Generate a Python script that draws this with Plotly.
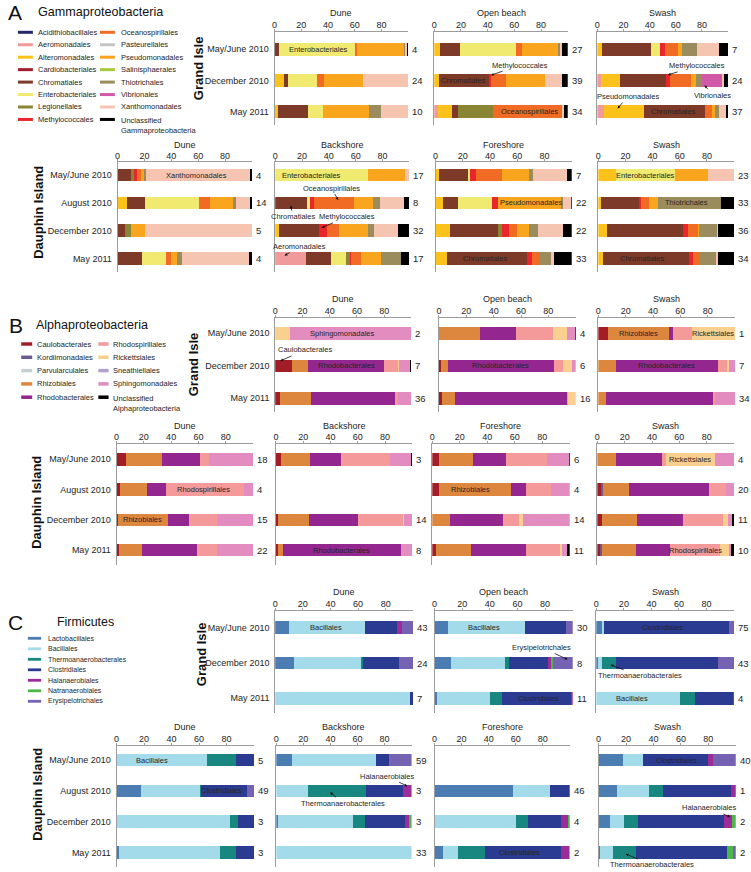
import plotly.graph_objects as go

# page pixels map 1:1 to figure pixels (body margin removed in post_script)
OX, OY = 0, 0
FW, FH = 751, 872
FONT = "Liberation Sans, Arial, Helvetica, sans-serif"
NARROW = "Liberation Sans Narrow, Liberation Sans, Arial, sans-serif"
AXIS_GRAY = "#9c9c9c"
TXT = "#1e1e1e"


def PX(x):
    return (x - OX) / FW


def PY(y):
    return 1 - (y - OY) / FH


# ---------------- orders & colours ----------------
GAMMA_ORDERS = ["Acidithiobacillales", "Aeromonadales", "Alteromonadales", "Cardiobacteriales",
                "Chromatiales", "Enterobacteriales", "Legionellales", "Methylococcales",
                "Oceanospirillales", "Pasteurellales", "Pseudomonadales", "Salinisphaerales",
                "Thiotrichales", "Vibrionales", "Xanthomonadales", "Unclassified"]
GAMMA_COLORS = ["#23286b", "#f09a9c", "#fcc21c", "#a01e2c", "#7d3a28", "#f1ea70", "#8a8532",
                "#e8262b", "#f26b24", "#c4c4c4", "#f9a51e", "#a9c83c", "#9a8c5c", "#d159a8",
                "#f5c5b2", "#000000"]
GAMMA_LEGEND = GAMMA_ORDERS[:-1] + ["Unclassified<br>Gammaproteobacteria"]

ALPHA_ORDERS = ["Caulobacterales", "Kordiimonadales", "Parvularculales", "Rhizobiales",
                "Rhodobacterales", "Rhodospirillales", "Rickettsiales", "Sneathiellales",
                "Sphingomonadales", "Unclassified"]
ALPHA_COLORS = ["#a31d26", "#6b5a8e", "#c5ced1", "#dd873e", "#93278f", "#f59a9a", "#f9d08f",
                "#b2a1cb", "#e38cc0", "#000000"]
ALPHA_LEGEND = ALPHA_ORDERS[:-1] + ["Unclassified<br>Alphaproteobacteria"]

FIRM_ORDERS = ["Lactobacillales", "Bacillales", "Thermoanaerobacterales", "Clostridiales",
               "Halanaerobiales", "Natranaerobiales", "Erysipelotrichales"]
FIRM_COLORS = ["#4b7cb2", "#a4dbeb", "#17877f", "#2b3b92", "#9c2c99", "#4db848", "#7562b3"]

GI_DATES = ["May/June 2010", "December 2010", "May 2011"]
DI_DATES = ["May/June 2010", "August 2010", "December 2010", "May 2011"]

# ---------------- A: Gammaproteobacteria ----------------
gamma_gi_dune = {
    "May/June 2010": {"Chromatiales": 3, "Enterobacteriales": 57, "Oceanospirillales": 2, "Pseudomonadales": 35, "Thiotrichales": 1, "Xanthomonadales": 1, "Unclassified": 1},
    "December 2010": {"Alteromonadales": 7, "Chromatiales": 3, "Enterobacteriales": 22, "Oceanospirillales": 5, "Pseudomonadales": 29, "Xanthomonadales": 34},
    "May 2011": {"Alteromonadales": 2.5, "Chromatiales": 22.5, "Enterobacteriales": 11.5, "Pseudomonadales": 34.5, "Thiotrichales": 8.5, "Xanthomonadales": 20.5},
}
gamma_gi_dune_n = [4, 24, 10]
gamma_gi_open = {
    "May/June 2010": {"Alteromonadales": 4.5, "Chromatiales": 14.5, "Enterobacteriales": 42, "Oceanospirillales": 4.5, "Pseudomonadales": 27, "Thiotrichales": 2, "Xanthomonadales": 1.5, "Unclassified": 4},
    "December 2010": {"Alteromonadales": 3.5, "Chromatiales": 37.5, "Methylococcales": 1.5, "Oceanospirillales": 11.5, "Pseudomonadales": 29, "Xanthomonadales": 12.5, "Unclassified": 4.5},
    "May 2011": {"Aeromonadales": 2.7, "Alteromonadales": 10.7, "Chromatiales": 4.5, "Legionellales": 26.3, "Oceanospirillales": 50.6, "Thiotrichales": 1, "Xanthomonadales": 1.2, "Unclassified": 3},
}
gamma_gi_open_n = [27, 39, 34]
gamma_gi_swash = {
    "May/June 2010": {"Alteromonadales": 3.3, "Chromatiales": 37.7, "Enterobacteriales": 7.2, "Methylococcales": 3.8, "Oceanospirillales": 9.7, "Pseudomonadales": 3, "Thiotrichales": 11.9, "Xanthomonadales": 16.5, "Unclassified": 6.9},
    "December 2010": {"Aeromonadales": 2.5, "Alteromonadales": 14.8, "Chromatiales": 35.5, "Methylococcales": 3, "Oceanospirillales": 15.7, "Pseudomonadales": 3.8, "Thiotrichales": 4.6, "Vibrionales": 15.3, "Xanthomonadales": 1.3, "Unclassified": 3.5},
    "May 2011": {"Aeromonadales": 5, "Alteromonadales": 30.5, "Chromatiales": 46.5, "Oceanospirillales": 5.5, "Pseudomonadales": 2.5, "Thiotrichales": 3, "Xanthomonadales": 5.5, "Unclassified": 1.5},
}
gamma_gi_swash_n = [7, 24, 37]

gamma_di_dune = {
    "May/June 2010": {"Aeromonadales": 0.7, "Chromatiales": 9, "Legionellales": 2.4, "Methylococcales": 2.4, "Oceanospirillales": 3.2, "Pseudomonadales": 1.7, "Thiotrichales": 1.7, "Xanthomonadales": 77.2, "Unclassified": 1.7},
    "August 2010": {"Alteromonadales": 7.3, "Chromatiales": 13.3, "Enterobacteriales": 40, "Oceanospirillales": 8, "Pseudomonadales": 17.5, "Thiotrichales": 2, "Xanthomonadales": 10.2, "Unclassified": 1.7},
    "December 2010": {"Alteromonadales": 0.7, "Chromatiales": 4.9, "Legionellales": 4.1, "Pseudomonadales": 10.9, "Xanthomonadales": 79.4},
    "May 2011": {"Alteromonadales": 0.7, "Chromatiales": 17.5, "Enterobacteriales": 17.7, "Oceanospirillales": 4.1, "Pseudomonadales": 4.4, "Thiotrichales": 3.4, "Xanthomonadales": 50.2, "Unclassified": 2},
}
gamma_di_dune_n = [4, 14, 5, 4]
gamma_di_back = {
    "May/June 2010": {"Enterobacteriales": 69, "Pseudomonadales": 28, "Xanthomonadales": 3},
    "August 2010": {"Chromatiales": 23.5, "Enterobacteriales": 2.5, "Methylococcales": 3.2, "Oceanospirillales": 29.6, "Pseudomonadales": 14, "Thiotrichales": 5, "Xanthomonadales": 18.5, "Unclassified": 3.7},
    "December 2010": {"Alteromonadales": 2.5, "Chromatiales": 30, "Methylococcales": 6.4, "Oceanospirillales": 9, "Pseudomonadales": 21, "Thiotrichales": 4.4, "Xanthomonadales": 18.1, "Unclassified": 8.6},
    "May 2011": {"Aeromonadales": 22.7, "Chromatiales": 18.7, "Enterobacteriales": 11.1, "Legionellales": 3, "Methylococcales": 1.2, "Oceanospirillales": 6.9, "Pseudomonadales": 15, "Thiotrichales": 15.3, "Unclassified": 6.1},
}
gamma_di_back_n = [17, 8, 32, 17]
gamma_di_fore = {
    "May/June 2010": {"Alteromonadales": 2.4, "Chromatiales": 21.1, "Enterobacteriales": 2, "Methylococcales": 4.1, "Oceanospirillales": 18.9, "Pseudomonadales": 20.4, "Thiotrichales": 2.4, "Xanthomonadales": 25.1, "Unclassified": 3.6},
    "August 2010": {"Alteromonadales": 5.3, "Chromatiales": 10.9, "Enterobacteriales": 25.5, "Methylococcales": 4.4, "Pseudomonadales": 46.1, "Thiotrichales": 1.2, "Xanthomonadales": 5.9, "Unclassified": 0.7},
    "December 2010": {"Alteromonadales": 10.7, "Chromatiales": 35.2, "Legionellales": 2.7, "Methylococcales": 5.3, "Oceanospirillales": 6.1, "Pseudomonadales": 8.5, "Thiotrichales": 6.6, "Xanthomonadales": 18.4, "Unclassified": 6.5},
    "May 2011": {"Alteromonadales": 8.3, "Chromatiales": 59, "Methylococcales": 3.2, "Oceanospirillales": 6.1, "Thiotrichales": 8.5, "Xanthomonadales": 2, "Unclassified": 12.9},
}
gamma_di_fore_n = [7, 22, 22, 33]
gamma_di_swash = {
    "May/June 2010": {"Alteromonadales": 13.1, "Enterobacteriales": 43.2, "Pseudomonadales": 24.3, "Xanthomonadales": 19.4},
    "August 2010": {"Alteromonadales": 1.7, "Chromatiales": 28.4, "Methylococcales": 1.2, "Oceanospirillales": 6.1, "Pseudomonadales": 6.3, "Thiotrichales": 46.6, "Unclassified": 9.7},
    "December 2010": {"Alteromonadales": 6.1, "Chromatiales": 56.3, "Methylococcales": 3.6, "Oceanospirillales": 7.3, "Pseudomonadales": 1.2, "Thiotrichales": 12.6, "Xanthomonadales": 1.2, "Unclassified": 11.7},
    "May 2011": {"Alteromonadales": 3.4, "Chromatiales": 63.3, "Methylococcales": 3.4, "Oceanospirillales": 4.9, "Thiotrichales": 11.7, "Xanthomonadales": 1.2, "Unclassified": 12.1},
}
gamma_di_swash_n = [23, 33, 36, 34]

# ---------------- B: Alphaproteobacteria ----------------
alpha_gi_dune = {
    "May/June 2010": {"Rickettsiales": 10.5, "Sphingomonadales": 89.5},
    "December 2010": {"Caulobacterales": 12.2, "Rhizobiales": 12.2, "Rhodobacterales": 55.3, "Rhodospirillales": 10.5, "Rickettsiales": 0.5, "Sphingomonadales": 8, "Unclassified": 1.3},
    "May 2011": {"Caulobacterales": 3.7, "Rhizobiales": 22.7, "Rhodobacterales": 61.5, "Rhodospirillales": 2.4, "Sphingomonadales": 9.7},
}
alpha_gi_dune_n = [2, 7, 36]
alpha_gi_open = {
    "May/June 2010": {"Rhizobiales": 30.3, "Rhodobacterales": 26, "Rhodospirillales": 27.2, "Rickettsiales": 10.4, "Sphingomonadales": 5.3, "Unclassified": 0.8},
    "December 2010": {"Caulobacterales": 1.2, "Rhizobiales": 5.3, "Rhodobacterales": 77.7, "Rhodospirillales": 6.8, "Rickettsiales": 6.6, "Sphingomonadales": 2.4},
    "May 2011": {"Caulobacterales": 2.2, "Rhizobiales": 9.7, "Rhodobacterales": 82, "Rhodospirillales": 0.7, "Rickettsiales": 5.4},
}
alpha_gi_open_n = [4, 6, 16]
alpha_gi_swash = {
    "May/June 2010": {"Caulobacterales": 7, "Rhizobiales": 44.7, "Rhodobacterales": 2.7, "Rhodospirillales": 14.3, "Rickettsiales": 31.3},
    "December 2010": {"Rhizobiales": 12.6, "Rhodobacterales": 74.9, "Rhodospirillales": 6.8, "Rickettsiales": 1, "Sphingomonadales": 4.7},
    "May 2011": {"Rhizobiales": 5.3, "Rhodobacterales": 78.5, "Rhodospirillales": 1.2, "Sphingomonadales": 15},
}
alpha_gi_swash_n = [1, 7, 34]

alpha_di_dune = {
    "May/June 2010": {"Caulobacterales": 6.8, "Rhizobiales": 26.8, "Rhodobacterales": 27.3, "Rhodospirillales": 6.8, "Sphingomonadales": 32.3},
    "August 2010": {"Caulobacterales": 2.4, "Rhizobiales": 20.2, "Rhodobacterales": 13.4, "Rhodospirillales": 57.2, "Sphingomonadales": 6.8},
    "December 2010": {"Caulobacterales": 0.7, "Rhizobiales": 37, "Rhodobacterales": 15.3, "Rhodospirillales": 20.7, "Sphingomonadales": 26.3},
    "May 2011": {"Caulobacterales": 1.5, "Rhizobiales": 16.8, "Rhodobacterales": 40.4, "Rhodospirillales": 15.1, "Sphingomonadales": 26.2},
}
alpha_di_dune_n = [18, 4, 15, 22]
alpha_di_back = {
    "May/June 2010": {"Caulobacterales": 3.9, "Rhizobiales": 21.2, "Rhodobacterales": 22.4, "Rhodospirillales": 36, "Sphingomonadales": 15.8, "Unclassified": 0.7},
    "December 2010": {"Caulobacterales": 1.5, "Rhizobiales": 22.4, "Rhodobacterales": 36, "Rhodospirillales": 33.3, "Rickettsiales": 0.7, "Sphingomonadales": 6.1},
    "May 2011": {"Caulobacterales": 1.9, "Rhizobiales": 3.6, "Rhodobacterales": 86.5, "Sphingomonadales": 8},
}
alpha_di_back_n = [3, None, 14, 8]
alpha_di_fore = {
    "May/June 2010": {"Caulobacterales": 4.8, "Rhizobiales": 25.1, "Rhodobacterales": 23.7, "Rhodospirillales": 29.7, "Sphingomonadales": 16.2, "Unclassified": 0.5},
    "August 2010": {"Caulobacterales": 4.8, "Rhizobiales": 52.4, "Rhodobacterales": 10.9, "Rhodospirillales": 18.1, "Sphingomonadales": 13.8},
    "December 2010": {"Rhizobiales": 13, "Rhodobacterales": 38.2, "Rhodospirillales": 11.6, "Rickettsiales": 2.9, "Sphingomonadales": 34.3},
    "May 2011": {"Caulobacterales": 2.9, "Rhizobiales": 25.4, "Rhodobacterales": 39.9, "Rhodospirillales": 24.6, "Rickettsiales": 1.4, "Sphingomonadales": 4.1, "Unclassified": 1.7},
}
alpha_di_fore_n = [6, 4, 14, 11]
alpha_di_swash = {
    "May/June 2010": {"Rhizobiales": 13.8, "Rhodobacterales": 33.4, "Rhodospirillales": 2.9, "Rickettsiales": 36.3, "Sphingomonadales": 13.6},
    "August 2010": {"Caulobacterales": 2.9, "Kordiimonadales": 1.2, "Rhizobiales": 19.4, "Rhodobacterales": 58.1, "Rhodospirillales": 12.8, "Sphingomonadales": 5.6},
    "December 2010": {"Caulobacterales": 3.6, "Rhizobiales": 25.4, "Rhodobacterales": 33.9, "Rhodospirillales": 29.1, "Rickettsiales": 3.6, "Sphingomonadales": 2.9, "Unclassified": 1.5},
    "May 2011": {"Caulobacterales": 1.7, "Kordiimonadales": 1.5, "Rhizobiales": 25.2, "Rhodobacterales": 24.9, "Rhodospirillales": 36.3, "Rickettsiales": 6.5, "Sphingomonadales": 1.5, "Unclassified": 2.4},
}
alpha_di_swash_n = [4, 20, 11, 10]

# ---------------- C: Firmicutes ----------------
firm_gi_dune = {
    "May/June 2010": {"Lactobacillales": 10, "Bacillales": 54.7, "Clostridiales": 23.3, "Halanaerobiales": 3.8, "Erysipelotrichales": 8.2},
    "December 2010": {"Lactobacillales": 13.9, "Bacillales": 48.4, "Thermoanaerobacterales": 1.2, "Clostridiales": 26, "Erysipelotrichales": 10.5},
    "May 2011": {"Bacillales": 97.5, "Clostridiales": 2.5},
}
firm_gi_dune_n = [43, 24, 7]
firm_gi_open = {
    "May/June 2010": {"Lactobacillales": 9.6, "Bacillales": 56.1, "Clostridiales": 29.5, "Erysipelotrichales": 4.8},
    "December 2010": {"Lactobacillales": 12, "Bacillales": 39.3, "Thermoanaerobacterales": 2.4, "Clostridiales": 28.2, "Halanaerobiales": 2.4, "Natranaerobiales": 1.2, "Erysipelotrichales": 14.5},
    "May 2011": {"Lactobacillales": 1.7, "Bacillales": 38.5, "Thermoanaerobacterales": 8.7, "Clostridiales": 50.1, "Halanaerobiales": 1},
}
firm_gi_open_n = [30, 8, 11]
firm_gi_swash = {
    "May/June 2010": {"Lactobacillales": 3.9, "Bacillales": 1.7, "Clostridiales": 90.8, "Erysipelotrichales": 3.6},
    "December 2010": {"Lactobacillales": 1.2, "Bacillales": 3.1, "Thermoanaerobacterales": 10.1, "Clostridiales": 73.6, "Erysipelotrichales": 12},
    "May 2011": {"Bacillales": 60.7, "Thermoanaerobacterales": 11, "Clostridiales": 27.3, "Halanaerobiales": 1},
}
firm_gi_swash_n = [75, 43, 4]

firm_di_dune = {
    "May/June 2010": {"Bacillales": 65.7, "Thermoanaerobacterales": 21, "Clostridiales": 13.3},
    "August 2010": {"Lactobacillales": 17.8, "Bacillales": 42.7, "Thermoanaerobacterales": 1, "Clostridiales": 33.3, "Erysipelotrichales": 5.2},
    "December 2010": {"Bacillales": 82.2, "Thermoanaerobacterales": 6.3, "Clostridiales": 11.5},
    "May 2011": {"Lactobacillales": 2.1, "Bacillales": 73.1, "Thermoanaerobacterales": 11.5, "Clostridiales": 13.3},
}
firm_di_dune_n = [5, 49, 3, 3]
firm_di_back = {
    "May/June 2010": {"Lactobacillales": 11.3, "Bacillales": 62.4, "Clostridiales": 9.6, "Erysipelotrichales": 16.7},
    "August 2010": {"Bacillales": 23.4, "Thermoanaerobacterales": 42.9, "Clostridiales": 27, "Halanaerobiales": 6.7},
    "December 2010": {"Lactobacillales": 1, "Bacillales": 55.7, "Thermoanaerobacterales": 8.9, "Clostridiales": 29.4, "Halanaerobiales": 3.2, "Natranaerobiales": 1.8},
    "May 2011": {"Bacillales": 100},
}
firm_di_back_n = [59, 3, 3, 33]
firm_di_fore = {
    "August 2010": {"Lactobacillales": 57.8, "Bacillales": 27.3, "Clostridiales": 14.9},
    "December 2010": {"Bacillales": 60.3, "Thermoanaerobacterales": 8.9, "Clostridiales": 24.1, "Halanaerobiales": 5.3, "Natranaerobiales": 1.4},
    "May 2011": {"Lactobacillales": 6.4, "Bacillales": 11.3, "Thermoanaerobacterales": 19.5, "Clostridiales": 56, "Halanaerobiales": 6, "Natranaerobiales": 0.8},
}
firm_di_fore_n = [None, 46, 4, 2]
firm_di_swash = {
    "May/June 2010": {"Lactobacillales": 17.9, "Bacillales": 14.3, "Clostridiales": 47.8, "Halanaerobiales": 3.6, "Erysipelotrichales": 16.4},
    "August 2010": {"Lactobacillales": 13.2, "Bacillales": 23.2, "Thermoanaerobacterales": 10.7, "Clostridiales": 49.3, "Halanaerobiales": 3.6},
    "December 2010": {"Lactobacillales": 8.6, "Bacillales": 10, "Thermoanaerobacterales": 10, "Clostridiales": 63.1, "Halanaerobiales": 5.4, "Natranaerobiales": 2.9},
    "May 2011": {"Lactobacillales": 0.7, "Bacillales": 10, "Thermoanaerobacterales": 16.8, "Clostridiales": 66.1, "Natranaerobiales": 4.3, "Erysipelotrichales": 2.1},
}
firm_di_swash_n = [40, 1, 2, 2]

# ---------------- building ----------------
fig = go.Figure()
layout = {}
annotations = []
shapes = []
counter = [0]


def add_row(cols, dates, xdoms, ytop, ybot, yfirst, yspace, title_y, orders, colors, label_font):
    for ci, col in enumerate(cols):
        counter[0] += 1
        k = counter[0]
        xa = "x" if k == 1 else f"x{k}"
        ya = "y" if k == 1 else f"y{k}"
        xkey = "xaxis" if k == 1 else f"xaxis{k}"
        ykey = "yaxis" if k == 1 else f"yaxis{k}"
        x0, x1 = xdoms[ci]
        data = col["data"]
        bw = 12.5 / yspace
        for order, color in zip(orders, colors):
            xs = [data.get(d, {}).get(order, 0) for d in dates]
            if not any(xs):
                continue
            fig.add_trace(go.Bar(x=xs, y=dates, orientation="h", width=bw,
                                 marker=dict(color=color, line=dict(width=0)),
                                 xaxis=xa, yaxis=ya, name=order, showlegend=False,
                                 hovertemplate=order + ": %{x}%<extra></extra>"))
        layout[xkey] = dict(domain=[PX(x0), PX(x1)], anchor=ya, side="top", range=[0, 100],
                            tickvals=[0, 20, 40, 60, 80], ticks="outside", ticklen=2,
                            tickcolor=AXIS_GRAY, showline=True, linecolor=AXIS_GRAY,
                            linewidth=1, showgrid=False, zeroline=False, fixedrange=True,
                            ticklabelstandoff=-3,
                            tickfont=dict(size=9, color=TXT, family=FONT))
        layout[ykey] = dict(domain=[PY(ybot), PY(ytop)], anchor=xa, type="category",
                            categoryorder="array", categoryarray=dates,
                            range=[(ybot - yfirst) / yspace, (ytop - yfirst) / yspace],
                            showline=True, linecolor=AXIS_GRAY, linewidth=1, ticks="",
                            showgrid=False, zeroline=False, fixedrange=True,
                            showticklabels=(ci == 0), ticklabelstandoff=3,
                            tickfont=dict(size=9, color=TXT, family=FONT))
        annotations.append(dict(x=50, xref=xa, y=PY(title_y), yref="paper", text=col["title"],
                                showarrow=False, xanchor="center", yanchor="middle",
                                font=dict(size=9, color=TXT, family=FONT)))
        for di, n in enumerate(col["n"]):
            if n is None:
                continue
            annotations.append(dict(x=100, xref=xa, y=di, yref=ya, text=str(n), showarrow=False,
                                    xanchor="left", yanchor="middle", xshift=2,
                                    font=dict(size=9.5, color=TXT, family=FONT)))
        for (txt, xv, di) in col.get("inbar", []):
            annotations.append(dict(x=xv, xref=xa, y=di, yref=ya, text=txt, showarrow=False,
                                    xanchor="center", yanchor="middle",
                                    font=dict(size=7.5, color="#262626", family=label_font)))
        for (txt, xv, yv, ax, ay) in col.get("callouts", []):
            annotations.append(dict(x=xv, xref=xa, y=yv, yref=ya, text=txt, showarrow=True,
                                    ax=ax, ay=ay, arrowhead=2, arrowsize=0.7, arrowwidth=0.8,
                                    arrowcolor="#111", standoff=0,
                                    font=dict(size=7.5, color="#262626", family=label_font)))


def add_legend(labels, colors, col_split, xs_sw, xs_txt, y0, dy, sw_h, fsize, ffamily):
    for i, (lab, c) in enumerate(zip(labels, colors)):
        col = 0 if i < col_split else 1
        row = i if i < col_split else i - col_split
        y = y0 + row * dy
        sx0, sx1 = xs_sw[col]
        shapes.append(dict(type="rect", xref="paper", yref="paper", x0=PX(sx0), x1=PX(sx1),
                           y0=PY(y + sw_h / 2), y1=PY(y - sw_h / 2),
                           fillcolor=c, line=dict(width=0)))
        if "<br>" in lab:
            annotations.append(dict(x=PX(xs_txt[col]), y=PY(y - 5.5), xref="paper", yref="paper",
                                    text=lab, showarrow=False, xanchor="left", yanchor="top",
                                    align="left", font=dict(size=fsize, color=TXT, family=ffamily)))
        else:
            annotations.append(dict(x=PX(xs_txt[col]), y=PY(y), xref="paper", yref="paper",
                                    text=lab, showarrow=False, xanchor="left", yanchor="middle",
                                    font=dict(size=fsize, color=TXT, family=ffamily)))


def text_px(x, y, txt, size, bold=False, anchor="left", angle=0, family=FONT):
    annotations.append(dict(x=PX(x), y=PY(y), xref="paper", yref="paper",
                            text=("<b>%s</b>" % txt) if bold else txt, showarrow=False,
                            xanchor=anchor, yanchor="middle", textangle=angle,
                            font=dict(size=size, color="#111", family=family)))


# ---- Panel A ----
add_row([
    dict(title="Dune", data=gamma_gi_dune, n=gamma_gi_dune_n,
         inbar=[("Enterobacteriales", 33, 0)]),
    dict(title="Open beach", data=gamma_gi_open, n=gamma_gi_open_n,
         inbar=[("Chromatiales", 21.5, 1), ("Oceanospirillales", 71, 2)],
         callouts=[("Methylococcales", 42.5, 0.83, 29, -10)]),
    dict(title="Swash", data=gamma_gi_swash, n=gamma_gi_swash_n,
         inbar=[("Chromatiales", 58, 2)],
         callouts=[("Methylococcales", 54, 0.82, 29, -9), ("Vibrionales", 82, 1.15, 8, 10),
                   ("Pseudomonadales", 15.5, 1.9, 10, -12)]),
], GI_DATES, [(272.7, 406.7), (433, 567), (596.7, 728)], 31.7, 125, 49.3, 31.2, 13,
    GAMMA_ORDERS, GAMMA_COLORS, FONT)

add_row([
    dict(title="Dune", data=gamma_di_dune, n=gamma_di_dune_n, inbar=[("Xanthomonadales", 59, 0)]),
    dict(title="Backshore", data=gamma_di_back, n=gamma_di_back_n,
         inbar=[("Enterobacteriales", 27, 0)],
         callouts=[("Oceanospirillales", 47, 0.9, -7, -12), ("Chromatiales", 11.6, 1.1, 2, 11),
                   ("Methylococcales", 34.6, 1.9, 25, -11), ("Aeromonadales", 7, 2.9, 15, -9)]),
    dict(title="Foreshore", data=gamma_di_fore, n=gamma_di_fore_n,
         inbar=[("Pseudomonadales", 70, 1), ("Chromatiales", 36, 3)]),
    dict(title="Swash", data=gamma_di_swash, n=gamma_di_swash_n,
         inbar=[("Enterobacteriales", 34.5, 0), ("Thiotrichales", 65, 1), ("Chromatiales", 32, 3)]),
], DI_DATES, [(115, 250), (273.3, 408), (434.3, 571), (597.7, 734)], 162.3, 272, 175, 27.8, 145,
    GAMMA_ORDERS, GAMMA_COLORS, FONT)

# ---- Panel B ----
add_row([
    dict(title="Dune", data=alpha_gi_dune, n=alpha_gi_dune_n,
         inbar=[("Sphingomonadales", 49, 0), ("Rhodobacterales", 52, 1)],
         callouts=[("Caulobacterales", 3.7, 0.85, 25, -11)]),
    dict(title="Open beach", data=alpha_gi_open, n=alpha_gi_open_n,
         inbar=[("Rhodobacterales", 45, 1)]),
    dict(title="Swash", data=alpha_gi_swash, n=alpha_gi_swash_n,
         inbar=[("Rhizobiales", 29.6, 0), ("Rickettsiales", 84, 0), ("Rhodobacterales", 50, 1)]),
], GI_DATES, [(273.3, 410), (437.7, 575), (597.7, 735)], 318, 411.7, 333.3, 32.5, 299.3,
    ALPHA_ORDERS, ALPHA_COLORS, FONT)

add_row([
    dict(title="Dune", data=alpha_di_dune, n=alpha_di_dune_n,
         inbar=[("Rhodospirillales", 64, 1), ("Rhizobiales", 19, 2)]),
    dict(title="Backshore", data=alpha_di_back, n=alpha_di_back_n,
         inbar=[("Rhodobacterales", 48, 3)]),
    dict(title="Foreshore", data=alpha_di_fore, n=alpha_di_fore_n,
         inbar=[("Rhizobiales", 27.7, 1)]),
    dict(title="Swash", data=alpha_di_swash, n=alpha_di_swash_n,
         inbar=[("Rickettsiales", 68, 0), ("Rhodospirillales", 71.7, 3)]),
], DI_DATES, [(114, 251), (274, 411), (431, 569), (596.7, 734)], 443.5, 565, 459.3, 30.3, 426,
    ALPHA_ORDERS, ALPHA_COLORS, FONT)

# ---- Panel C ----
add_row([
    dict(title="Dune", data=firm_gi_dune, n=firm_gi_dune_n, inbar=[("Bacillales", 37, 0)]),
    dict(title="Open beach", data=firm_gi_open, n=firm_gi_open_n,
         inbar=[("Bacillales", 36, 0), ("Clostridiales", 75.5, 2)],
         callouts=[("Erysipelotrichales", 96.3, 0.9, -26, -12)]),
    dict(title="Swash", data=firm_gi_swash, n=firm_gi_swash_n,
         inbar=[("Clostridiales", 47.7, 0), ("Bacillales", 26, 2)],
         callouts=[("Thermoanaerobacterales", 10.3, 1.05, 29, 11)]),
], GI_DATES, [(273.3, 412), (433.3, 572), (595.7, 734)], 611, 713, 627.7, 35.3, 592,
    FIRM_ORDERS, FIRM_COLORS, NARROW)

add_row([
    dict(title="Dune", data=firm_di_dune, n=firm_di_dune_n,
         inbar=[("Bacillales", 25.6, 0), ("Clostridiales", 76, 1)]),
    dict(title="Backshore", data=firm_di_back, n=firm_di_back_n,
         callouts=[("Halanaerobiales", 97, 0.85, -21, -10),
                   ("Thermoanaerobacterales", 39.8, 1.05, 13, 11)]),
    dict(title="Foreshore", data=firm_di_fore, n=firm_di_fore_n,
         inbar=[("Clostridiales", 63, 3)]),
    dict(title="Swash", data=firm_di_swash, n=firm_di_swash_n,
         inbar=[("Clostridiales", 57, 0)],
         callouts=[("Halanaerobiales", 96, 1.85, -21, -9),
                   ("Thermoanaerobacterales", 19.7, 3.05, 26, 11)]),
], DI_DATES, [(114, 252), (274.4, 410.2), (433.3, 569), (598, 735.7)], 745.7, 867, 760, 30.8, 727.3,
    FIRM_ORDERS, FIRM_COLORS, NARROW)

# ---- legends ----
add_legend(GAMMA_LEGEND, GAMMA_COLORS, 8, [(15, 30), (97.3, 112.3)], [32.7, 116.7], 32.3, 12.45, 3, 7.5, FONT)
add_legend(ALPHA_LEGEND, ALPHA_COLORS, 5, [(18.3, 29.3), (95.7, 106)], [31.7, 108.3], 344, 13.3, 3.5, 7.5, FONT)
add_legend(FIRM_ORDERS, FIRM_COLORS, 7, [(25, 38.3), (0, 0)], [42.7, 0], 638.3, 10.5, 2.8, 7, NARROW)

# ---- panel letters, titles, site labels ----
text_px(3, 13, "A", 21)
text_px(33, 12, "Gammaproteobacteria", 12.6)
text_px(4, 325, "B", 21)
text_px(30.7, 325, "Alphaproteobacteria", 12.5)
text_px(3, 622, "C", 21)
text_px(52.7, 622, "Firmicutes", 12.4)

text_px(197, 68, "Grand Isle", 13, bold=True, anchor="center", angle=-90)
text_px(35, 212, "Dauphin Island", 13, bold=True, anchor="center", angle=-90)
text_px(191, 364, "Grand Isle", 13, bold=True, anchor="center", angle=-90)
text_px(33, 502, "Dauphin Island", 13, bold=True, anchor="center", angle=-90)
text_px(199, 654, "Grand Isle", 13, bold=True, anchor="center", angle=-90)
text_px(34, 794, "Dauphin Island", 13, bold=True, anchor="center", angle=-90)

layout.update(dict(width=FW, height=FH, margin=dict(l=0, r=0, t=0, b=0),
                   paper_bgcolor="white", plot_bgcolor="white", barmode="stack",
                   bargap=0, showlegend=False, font=dict(family=FONT, color=TXT),
                   annotations=annotations, shapes=shapes))
fig.update_layout(**layout)
fig.write_html("out.html", config={"displayModeBar": False, "staticPlot": True},
               post_script="document.body.style.margin='0px';")
